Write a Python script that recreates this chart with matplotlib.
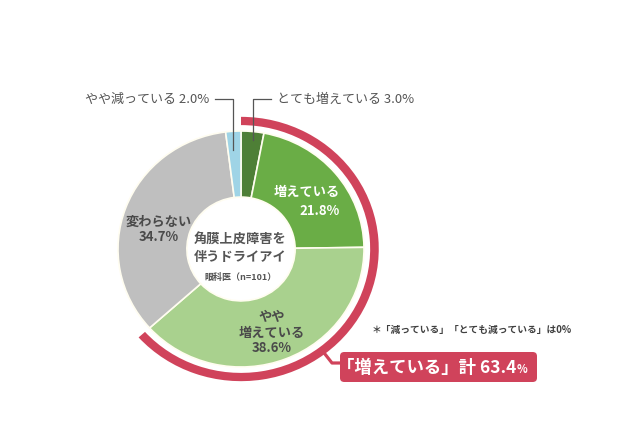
import matplotlib
matplotlib.use("Agg")
import matplotlib.pyplot as plt
from matplotlib.patches import Wedge, FancyBboxPatch
import numpy as np

plt.rcParams['font.family'] = ['Noto Sans CJK JP', 'DejaVu Sans']

# data
labels = ['とても増えている', '増えている', 'やや増えている', '変わらない', 'やや減っている']
values = [3.0, 21.8, 38.6, 34.7, 2.0]
colors = ['#4e7f36', '#6aad46', '#a9d18e', '#bfbfbf', '#9fd4e6']
increase_idx = [0, 1, 2]
center_title = ['角膜上皮障害を', '伴うドライアイ']
center_note = '眼科医（n=101）'
footnote = '＊「減っている」「とても減っている」は0%'

RED = '#d0435b'
TXT = '#555555'

# pixel layout helpers (pie centre and radius in pixels)
CX, CY, RX, RY = 241, 249, 123, 118
W, H = 640, 426


def px(x):
    return (x - CX) / RX


def py(y):
    return (CY - y) / RY


fig = plt.figure(figsize=(W / 100, H / 100), dpi=100)
ax = fig.add_axes([0, 0, 1, 1])

total = sum(values)
ax.pie(values, colors=colors, startangle=90, counterclock=False, radius=1.0,
       wedgeprops=dict(width=0.56, edgecolor='#fffdf0', linewidth=1.2))
ax.set_aspect('auto')
ax.set_xlim(px(0), px(W))
ax.set_ylim(py(H), py(0))
ax.axis('off')

# red arc for the "increased" total
inc_total = sum(values[i] for i in increase_idx)
ax.add_patch(Wedge((0, 0), 1.12, 90 - 360 * inc_total / total, 90,
                   width=0.07, facecolor=RED, edgecolor='none'))

# connector + box
ax.plot([px(321), px(332), px(342)], [py(349), py(363), py(363)],
        color=RED, lw=2.3, solid_capstyle='butt')
ax.add_patch(FancyBboxPatch((px(340), py(382)), (537 - 340) / RX, 30 / RY,
                            boxstyle='round,pad=0,rounding_size=0.035',
                            facecolor=RED, edgecolor='none'))
main = ax.text(px(337), py(373), f'「増えている」計 {inc_total:.1f}',
               ha='left', va='baseline', fontsize=12.5, fontweight='bold',
               color='white')
ax.annotate('%', xy=(1, 0), xycoords=main, xytext=(0.5, 1.0),
            textcoords='offset points', ha='left', va='bottom',
            fontsize=8, fontweight='bold', color='white')

# leader labels for small slices
cum = np.cumsum([0] + values)
mid = [(cum[i] + values[i] / 2) / total * 2 * np.pi for i in range(len(values))]
x_dark = np.sin(mid[0])
x_blue = np.sin(mid[4])

ax.plot([px(271), x_dark, x_dark], [py(99), py(99), py(140)], color='#555555', lw=0.9)
ax.plot([px(215), x_blue, x_blue], [py(99), py(99), py(150)], color='#555555', lw=0.9)
ax.text(px(277), py(99), f'{labels[0]} {values[0]:.1f}%', ha='left', va='center',
        fontsize=9.4, color=TXT)
ax.text(px(209), py(99), f'{labels[4]} {values[4]:.1f}%', ha='right', va='center',
        fontsize=9.4, color=TXT)

# slice labels
lab_kw = dict(fontsize=9.5, fontweight='bold', va='center')
ax.text(px(340), py(192), labels[1], ha='right', color='white', **lab_kw)
ax.text(px(340), py(211), f'{values[1]:.1f}%', ha='right', color='white', **lab_kw)

ax.text(px(159), py(222), labels[3], ha='center', color='#4a4a4a', **lab_kw)
ax.text(px(159), py(237), f'{values[3]:.1f}%', ha='center', color='#4a4a4a', **lab_kw)

ax.text(px(272), py(317), 'やや', ha='center', color='#4a4a4a', **lab_kw)
ax.text(px(272), py(333), '増えている', ha='center', color='#4a4a4a', **lab_kw)
ax.text(px(272), py(348), f'{values[2]:.1f}%', ha='center', color='#4a4a4a', **lab_kw)

# centre text
ax.text(px(240), py(240), center_title[0], ha='center', color=TXT, **lab_kw)
ax.text(px(240), py(257), center_title[1], ha='center', color=TXT, **lab_kw)
ax.text(px(241), py(277), center_note, ha='center', va='center', fontsize=6.5,
        fontweight='bold', color=TXT)

ax.text(px(372), py(330), footnote, ha='left', va='center', fontsize=7,
        fontweight='bold', color='#404040')

fig.savefig('out.png', dpi=100)
